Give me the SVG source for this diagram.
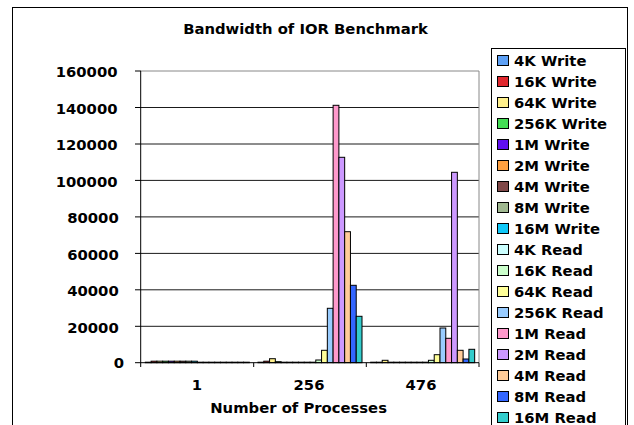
<svg xmlns="http://www.w3.org/2000/svg" width="634" height="425" viewBox="0 0 634 425">
<style>
text{font-family:"DejaVu Sans","Liberation Sans",sans-serif;font-weight:bold;font-size:14.8px;fill:#000}
.yl{text-anchor:end}
.xl{text-anchor:middle}
.grid{stroke:#1a1a1a;stroke-width:1}
.axis{stroke:#000;stroke-width:1;fill:none}
.bar rect,.sw{stroke:#000;stroke-width:1}
.s0{fill:#5DA0F5}.s1{fill:#E0282E}.s2{fill:#FFF08C}.s3{fill:#44DD55}.s4{fill:#6010F0}.s5{fill:#FFA040}
.s6{fill:#804848}.s7{fill:#A0B890}.s8{fill:#10C8F8}.s9{fill:#CCFFFF}.s10{fill:#CCFFCC}.s11{fill:#FFFF99}
.s12{fill:#99CCFF}.s13{fill:#FF99CC}.s14{fill:#CC99FF}.s15{fill:#FFCC99}.s16{fill:#3366FF}.s17{fill:#33CCCC}
</style>
<rect x="0" y="0" width="634" height="425" fill="#fff"/>
<rect id="frame" x="12.5" y="7.5" width="615" height="430" fill="none" stroke="#000" stroke-width="1"/>
<text id="title" x="305.5" y="34" class="xl">Bandwidth of IOR Benchmark</text>

<g id="plot">
  <g id="gridlines">
    <line class="grid" x1="141" y1="107.5" x2="479" y2="107.5"/>
    <line class="grid" x1="141" y1="144" x2="479" y2="144"/>
    <line class="grid" x1="141" y1="180.4" x2="479" y2="180.4"/>
    <line class="grid" x1="141" y1="216.9" x2="479" y2="216.9"/>
    <line class="grid" x1="141" y1="253.4" x2="479" y2="253.4"/>
    <line class="grid" x1="141" y1="289.8" x2="479" y2="289.8"/>
    <line class="grid" x1="141" y1="326.3" x2="479" y2="326.3"/>
  </g>
  <polyline points="141,71 479,71 479,362.7" fill="none" stroke="#888" stroke-width="1"/>
  <g id="yaxis-labels">
    <text class="yl" x="117.5" y="77.3">160000</text>
    <text class="yl" x="117.5" y="113.8">140000</text>
    <text class="yl" x="117.5" y="150.3">120000</text>
    <text class="yl" x="117.5" y="186.7">100000</text>
    <text class="yl" x="118.7" y="223.2">80000</text>
    <text class="yl" x="118.7" y="259.7">60000</text>
    <text class="yl" x="118.7" y="296.1">40000</text>
    <text class="yl" x="118.7" y="332.6">20000</text>
    <text class="yl" x="124" y="368.3">0</text>
  </g>
</g>

<g id="bars" class="bar">
  <!-- category 1 -->
  <rect class="s0" x="145.33" y="362.2" width="5.78" height="0.5"/>
  <rect class="s1" x="151.11" y="361.2" width="5.78" height="1.5"/>
  <rect class="s2" x="156.89" y="361.2" width="5.78" height="1.5"/>
  <rect class="s3" x="162.67" y="361.2" width="5.78" height="1.5"/>
  <rect class="s4" x="168.44" y="361.2" width="5.78" height="1.5"/>
  <rect class="s5" x="174.22" y="361.2" width="5.78" height="1.5"/>
  <rect class="s6" x="180.00" y="361.2" width="5.78" height="1.5"/>
  <rect class="s7" x="185.78" y="361.2" width="5.78" height="1.5"/>
  <rect class="s8" x="191.56" y="361.2" width="5.78" height="1.5"/>
  <rect class="s9" x="197.33" y="362.2" width="5.78" height="0.5"/>
  <rect class="s10" x="203.11" y="362.2" width="5.78" height="0.5"/>
  <rect class="s11" x="208.89" y="362.2" width="5.78" height="0.5"/>
  <rect class="s12" x="214.67" y="362.2" width="5.78" height="0.5"/>
  <rect class="s13" x="220.44" y="362.2" width="5.78" height="0.5"/>
  <rect class="s14" x="226.22" y="362.2" width="5.78" height="0.5"/>
  <rect class="s15" x="232.00" y="362.2" width="5.78" height="0.5"/>
  <rect class="s16" x="237.78" y="362.2" width="5.78" height="0.5"/>
  <rect class="s17" x="243.56" y="362.2" width="5.78" height="0.5"/>
  <!-- category 256 -->
  <rect class="s0" x="258.00" y="362.2" width="5.78" height="0.5"/>
  <rect class="s1" x="263.78" y="361.2" width="5.78" height="1.5"/>
  <rect class="s2" x="269.56" y="358.7" width="5.78" height="4"/>
  <rect class="s3" x="275.33" y="361.7" width="5.78" height="1"/>
  <rect class="s4" x="281.11" y="362.2" width="5.78" height="0.5"/>
  <rect class="s5" x="286.89" y="362.2" width="5.78" height="0.5"/>
  <rect class="s6" x="292.67" y="362.2" width="5.78" height="0.5"/>
  <rect class="s7" x="298.44" y="362.2" width="5.78" height="0.5"/>
  <rect class="s8" x="304.22" y="362.2" width="5.78" height="0.5"/>
  <rect class="s9" x="310.00" y="362.2" width="5.78" height="0.5"/>
  <rect class="s10" x="315.78" y="360.0" width="5.78" height="2.7"/>
  <rect class="s11" x="321.56" y="350.3" width="5.78" height="12.4"/>
  <rect class="s12" x="327.33" y="308.3" width="5.78" height="54.4"/>
  <rect class="s13" x="333.11" y="105.3" width="5.78" height="257.4"/>
  <rect class="s14" x="338.89" y="157.3" width="5.78" height="205.4"/>
  <rect class="s15" x="344.67" y="231.7" width="5.78" height="131"/>
  <rect class="s16" x="350.44" y="285.3" width="5.78" height="77.4"/>
  <rect class="s17" x="356.22" y="316.3" width="5.78" height="46.4"/>
  <!-- category 476 -->
  <rect class="s0" x="370.67" y="362.2" width="5.78" height="0.5"/>
  <rect class="s1" x="376.44" y="362.2" width="5.78" height="0.5"/>
  <rect class="s2" x="382.22" y="360.3" width="5.78" height="2.4"/>
  <rect class="s3" x="388.00" y="362.2" width="5.78" height="0.5"/>
  <rect class="s4" x="393.78" y="362.2" width="5.78" height="0.5"/>
  <rect class="s5" x="399.56" y="362.2" width="5.78" height="0.5"/>
  <rect class="s6" x="405.33" y="362.2" width="5.78" height="0.5"/>
  <rect class="s7" x="411.11" y="362.2" width="5.78" height="0.5"/>
  <rect class="s8" x="416.89" y="362.2" width="5.78" height="0.5"/>
  <rect class="s9" x="422.67" y="362.2" width="5.78" height="0.5"/>
  <rect class="s10" x="428.44" y="360.3" width="5.78" height="2.4"/>
  <rect class="s11" x="434.22" y="354.7" width="5.78" height="8"/>
  <rect class="s12" x="440.00" y="328.0" width="5.78" height="34.7"/>
  <rect class="s13" x="445.78" y="338.3" width="5.78" height="24.4"/>
  <rect class="s14" x="451.56" y="172.3" width="5.78" height="190.4"/>
  <rect class="s15" x="457.33" y="350.3" width="5.78" height="12.4"/>
  <rect class="s16" x="463.11" y="359.0" width="5.78" height="3.7"/>
  <rect class="s17" x="468.89" y="349.3" width="5.78" height="13.4"/>
</g>

<g id="axes">
  <line class="axis" x1="140.7" y1="71" x2="140.7" y2="367"/>
  <line class="axis" x1="135" y1="362.7" x2="479" y2="362.7"/>
  <path class="axis" d="M135,71H141M135,107.5H141M135,144H141M135,180.4H141M135,216.9H141M135,253.4H141M135,289.8H141M135,326.3H141"/>
  <path class="axis" d="M253.7,362.7V367M366.3,362.7V367M479,362.7V367"/>
  <text class="xl" x="197" y="390.3">1</text>
  <text class="xl" x="309" y="390.3">256</text>
  <text class="xl" x="421" y="390.3">476</text>
  <text class="xl" x="298.6" y="413">Number of Processes</text>
</g>

<g id="legend">
  <rect x="491.5" y="48.5" width="134" height="400" fill="#fff" stroke="#000" stroke-width="1"/>
  <rect class="sw s0" x="497.5" y="55.5" width="11" height="10"/><text x="514" y="65.7">4K Write</text>
  <rect class="sw s1" x="497.5" y="76.5" width="11" height="10"/><text x="514" y="86.7">16K Write</text>
  <rect class="sw s2" x="497.5" y="97.5" width="11" height="10"/><text x="514" y="107.7">64K Write</text>
  <rect class="sw s3" x="497.5" y="118.5" width="11" height="10"/><text x="514" y="128.7">256K Write</text>
  <rect class="sw s4" x="497.5" y="139.5" width="11" height="10"/><text x="514" y="149.7">1M Write</text>
  <rect class="sw s5" x="497.5" y="160.5" width="11" height="10"/><text x="514" y="170.7">2M Write</text>
  <rect class="sw s6" x="497.5" y="181.5" width="11" height="10"/><text x="514" y="191.7">4M Write</text>
  <rect class="sw s7" x="497.5" y="202.5" width="11" height="10"/><text x="514" y="212.7">8M Write</text>
  <rect class="sw s8" x="497.5" y="223.5" width="11" height="10"/><text x="514" y="233.7">16M Write</text>
  <rect class="sw s9" x="497.5" y="244.5" width="11" height="10"/><text x="514" y="254.7">4K Read</text>
  <rect class="sw s10" x="497.5" y="265.5" width="11" height="10"/><text x="514" y="275.7">16K Read</text>
  <rect class="sw s11" x="497.5" y="286.5" width="11" height="10"/><text x="514" y="296.7">64K Read</text>
  <rect class="sw s12" x="497.5" y="307.5" width="11" height="10"/><text x="514" y="317.7">256K Read</text>
  <rect class="sw s13" x="497.5" y="328.5" width="11" height="10"/><text x="514" y="338.7">1M Read</text>
  <rect class="sw s14" x="497.5" y="349.5" width="11" height="10"/><text x="514" y="359.7">2M Read</text>
  <rect class="sw s15" x="497.5" y="370.5" width="11" height="10"/><text x="514" y="380.7">4M Read</text>
  <rect class="sw s16" x="497.5" y="391.5" width="11" height="10"/><text x="514" y="401.7">8M Read</text>
  <rect class="sw s17" x="497.5" y="412.5" width="11" height="10"/><text x="514" y="422.7">16M Read</text>
</g>
</svg>
